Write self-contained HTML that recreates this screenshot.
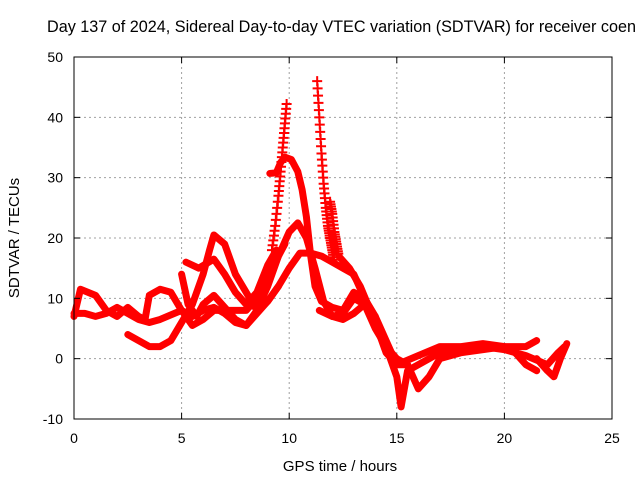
<!DOCTYPE html>
<html><head><meta charset="utf-8"><style>
html,body{margin:0;padding:0;background:#fff;}
svg{display:block;font-family:"Liberation Sans",sans-serif;}
</style></head><body>
<svg id="chart" width="640" height="480" viewBox="0 0 640 480">
<rect x="0" y="0" width="640" height="480" fill="#fff"/>
<text x="47" y="32" font-size="16.2" fill="#000">Day 137 of 2024, Sidereal Day-to-day VTEC variation (SDTVAR) for receiver coen</text>
<g id="grid"></g>
<g id="series"></g>
<g id="axes"></g>
<text x="340" y="471" font-size="15" text-anchor="middle">GPS time / hours</text>
<text x="0" y="0" font-size="15" text-anchor="middle" transform="translate(19,238) rotate(-90)">SDTVAR / TECUs</text>
</svg>
<script>
const xTicks=[0,5,10,15,20,25];
const yTicks=[-10,0,10,20,30,40,50];
const track1=[[0,7.5],[0.5,7.5],[1,7],[1.5,7.5],[2,8.5],[2.5,7.5],[3,6.5],[3.5,6],[4,6.5],[5,8],[5.5,7],[6,8],[6.5,8.5],[7,7.5],[7.5,6],[8,5.5],[8.5,7.5],[9,9.5],[9.5,12],[10,15],[10.5,17.5],[11,17.5],[11.5,17],[12,16],[12.5,15],[13,14],[13.5,10],[14,7]];
const track2=[[0,7],[0.3,11.5],[1,10.5],[1.5,8],[2,7],[2.5,8.5],[3,7],[3.3,6.5],[3.5,10.5],[4,11.5],[4.5,11],[5,8],[5.5,5.5],[6,6.5],[6.5,8],[7,8],[7.5,8],[8,8],[8.5,10],[9,13],[9.5,17],[10,21],[10.4,22.5],[10.8,20],[11.2,15],[11.6,9.5],[12,7],[12.5,6.5],[13,7.5],[13.5,9],[14,7],[14.5,3],[15,-1],[15.5,-1]];
const track3=[[2.5,4],[3,3],[3.5,2],[4,2],[4.5,3],[5,6],[5.5,9],[6,14],[6.3,18],[6.5,20.5],[7,19],[7.5,14],[8,11],[8.5,8],[9,9.5],[9.5,12]];
const track4=[[5,14],[5.3,9],[5.7,7],[6,9],[6.5,10.5],[7,8.5],[7.5,6.5],[8,5.5],[8.5,8],[9,12],[9.5,17],[9.8,19]];
const track5=[[5.2,16],[5.8,15],[6.5,16.5],[7,14],[7.5,11],[8,9],[8.5,11],[9,15.5],[9.4,18]];
const track5b=[[9.1,30.7],[9.4,30.8],[9.6,32.5],[9.8,33.4],[10.1,33],[10.4,31],[10.6,28],[10.8,23.5],[11,17],[11.2,12],[11.5,9.5],[12,8.5],[12.5,8],[13,11],[13.5,10],[14,6],[14.5,2],[15,-3],[15.2,-8],[15.5,-2],[16,-1],[16.5,0],[17,1],[18,1.5],[19,2],[20,1.5],[21,0.5],[22,-1],[22.5,1],[22.8,2]];
const track6=[[11.4,8],[12,7],[12.5,7.5],[13,10],[13.5,9],[14,5],[14.5,2],[15,0],[15.5,-1],[16,-5],[16.5,-3],[17,0],[18,1],[19,1.5],[20,2],[20.5,1],[21,-1],[21.5,-2]];
const track7=[[12.3,17],[12.8,15],[13.3,12],[14,6],[14.5,1],[15,-1],[16,0.5],[17,2],[18,2],[19,2.5],[20,2],[21,2],[21.5,3]];
const track8=[[21.5,0],[22,-2],[22.3,-3],[22.6,0],[22.9,2.5]];
const spike1=[[9.2,18],[9.35,22],[9.5,27],[9.6,31],[9.7,35],[9.8,39],[9.9,43]];
const spike2=[[11.3,46],[11.4,40],[11.5,34],[11.6,29],[11.7,25],[11.8,22],[11.9,20],[12,18],[12.1,16]];
const spike3=[[11.9,26],[12.0,24],[12.1,21],[12.2,19],[12.3,17]];
const tracks=[track1,track2,track3,track4,track5,track5b,track6,track7,track8];
const spikes=[spike1,spike2,spike3];
const X0=74,X1=612,Y0=419,Y1=57;
const sx=h=>X0+(h-0)/(25-0)*(X1-X0);
const sy=v=>Y0-(v+10)/(60)*(Y0-Y1);
const NS="http://www.w3.org/2000/svg";
function mk(tag,attrs,parent){const e=document.createElementNS(NS,tag);for(const k in attrs)e.setAttribute(k,attrs[k]);parent.appendChild(e);return e;}
const grid=document.getElementById('grid'),axes=document.getElementById('axes'),ser=document.getElementById('series');
xTicks.forEach(t=>{const x=sx(t);
 if(t>0&&t<25){const g=mk('line',{x1:x,y1:Y1,x2:x,y2:Y0,stroke:'#a0a0a0','stroke-dasharray':'2,3','stroke-width':1},grid);
 
 }
 const tk=mk('line',{x1:x,y1:Y0,x2:x,y2:Y0-6,stroke:'#000'},axes);
 
 
 const tk2=mk('line',{x1:x,y1:Y1,x2:x,y2:Y1+6,stroke:'#000'},axes);
 
 
 const l=mk('text',{x:x,y:443,'font-size':14,'text-anchor':'middle'},axes);l.textContent=t;
 
 
});
yTicks.forEach(t=>{const y=sy(t);
 if(t>-10&&t<50){const g=mk('line',{x1:X0,y1:y,x2:X1,y2:y,stroke:'#a0a0a0','stroke-dasharray':'2,3','stroke-width':1},grid);
 
 }
 const tk=mk('line',{x1:X0,y1:y,x2:X0+6,y2:y,stroke:'#000'},axes);
 
 
 const tk2=mk('line',{x1:X1,y1:y,x2:X1-6,y2:y,stroke:'#000'},axes);
 
 
 const l=mk('text',{x:63,y:y+5,'font-size':14,'text-anchor':'end'},axes);l.textContent=t;
 
 
});
const fr=mk('rect',{x:X0,y:Y1,width:X1-X0,height:Y0-Y1,fill:'none',stroke:'#000','stroke-width':1},axes);


tracks.forEach(tr=>{
 const p=mk('polyline',{points:tr.map(d=>sx(d[0])+','+sy(d[1])).join(' '),fill:'none',stroke:'#ff0000','stroke-width':7,'stroke-linejoin':'round','stroke-linecap':'round'},ser);
 
 
});
spikes.forEach(sp=>{
 for(let i=0;i<sp.length-1;i++){
  const a=sp[i],b=sp[i+1];
  for(let k=0;k<5;k++){const f=k/5;const h=a[0]+(b[0]-a[0])*f,v=a[1]+(b[1]-a[1])*f;
   const x=sx(h),y=sy(v);
   const m=mk('path',{d:`M${x-5},${y}H${x+5}M${x},${y-5}V${y+5}`,stroke:'#ff0000','stroke-width':2,fill:'none'},ser);
   
   
  }
 }
});
</script>
</body></html>
